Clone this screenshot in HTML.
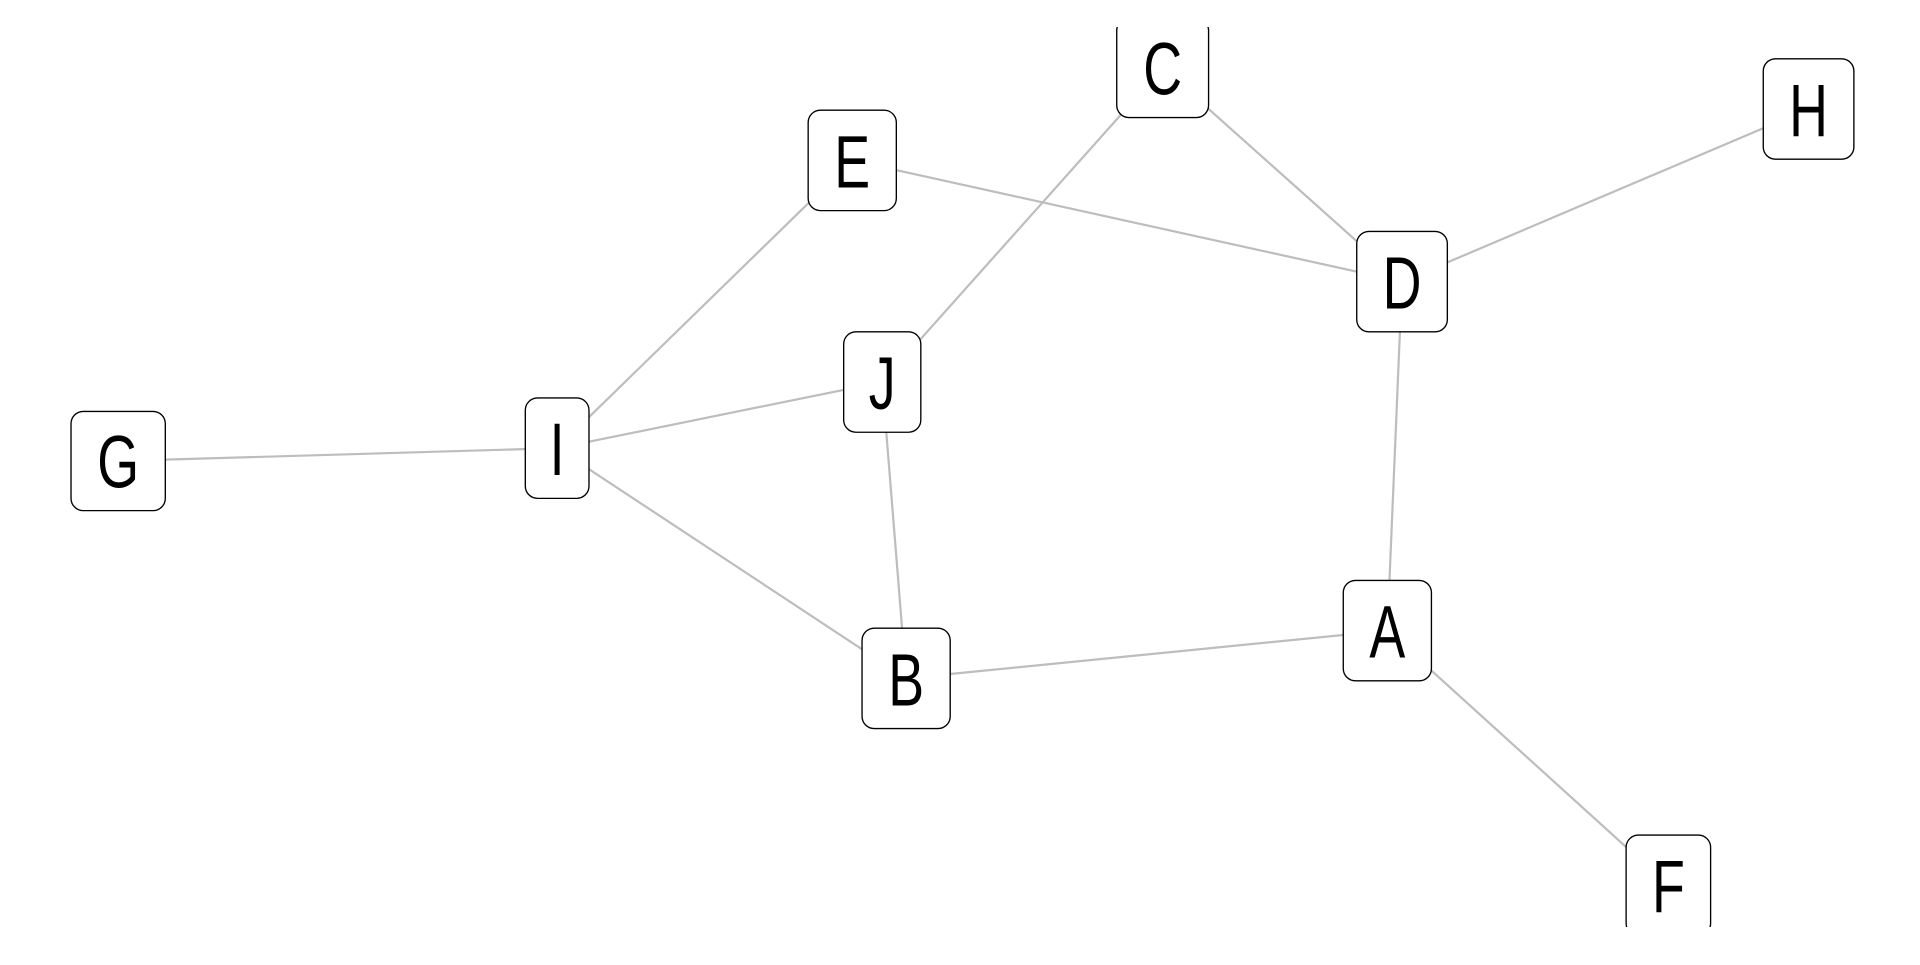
<!DOCTYPE html>
<html><head><style>html,body{margin:0;padding:0;background:#fff;overflow:hidden}</style></head>
<body>
<svg width="1920" height="960" viewBox="0 0 1568 784" xmlns="http://www.w3.org/2000/svg">
<defs><clipPath id="c"><rect x="0" y="22" width="1568" height="735"/></clipPath></defs>
<g clip-path="url(#c)">
<g stroke="#bdbdbd" stroke-width="1.8">
<line x1="949.5" y1="55.5" x2="1145" y2="230"/>
<line x1="949.5" y1="55.5" x2="720.5" y2="312"/>
<line x1="696" y1="131" x2="1145" y2="230"/>
<line x1="696" y1="131" x2="455" y2="366"/>
<line x1="1477" y1="89" x2="1145" y2="230"/>
<line x1="1145" y1="230" x2="1133" y2="515"/>
<line x1="455" y1="366" x2="720.5" y2="312"/>
<line x1="455" y1="366" x2="96.5" y2="376.5"/>
<line x1="455" y1="366" x2="740" y2="554"/>
<line x1="720.5" y1="312" x2="740" y2="554"/>
<line x1="740" y1="554" x2="1133" y2="515"/>
<line x1="1133" y1="515" x2="1362.5" y2="723"/>
</g>
<g fill="#fff" stroke="#000" stroke-width="1.1">
<rect x="912" y="15" width="75" height="81" rx="10"/>
<rect x="1440" y="48" width="74" height="82" rx="10"/>
<rect x="660" y="90" width="72" height="82" rx="10"/>
<rect x="1108" y="189" width="74" height="82" rx="10"/>
<rect x="689" y="271" width="63" height="82" rx="10"/>
<rect x="429" y="325" width="52" height="82" rx="10"/>
<rect x="58" y="336" width="77" height="81" rx="10"/>
<rect x="1097" y="474" width="72" height="82" rx="10"/>
<rect x="704" y="513" width="72" height="82" rx="10"/>
<rect x="1328" y="682" width="69" height="82" rx="10"/>
</g>
<g font-family="'Liberation Sans',sans-serif" font-size="61" text-anchor="middle" fill="#000">
<text transform="translate(949.5,77) scale(0.72,1)">C</text>
<text transform="translate(1477,111) scale(0.72,1)">H</text>
<text transform="translate(696,153) scale(0.72,1)">E</text>
<text transform="translate(1145,252) scale(0.72,1)">D</text>
<text transform="translate(720.5,334) scale(0.72,1)">J</text>
<text transform="translate(455,388) scale(0.72,1)">I</text>
<text transform="translate(96.5,398) scale(0.72,1)">G</text>
<text transform="translate(1133,537) scale(0.72,1)">A</text>
<text transform="translate(740,576) scale(0.72,1)">B</text>
<text transform="translate(1362.5,745) scale(0.72,1)">F</text>
</g>
</g>
</svg>
</body></html>
